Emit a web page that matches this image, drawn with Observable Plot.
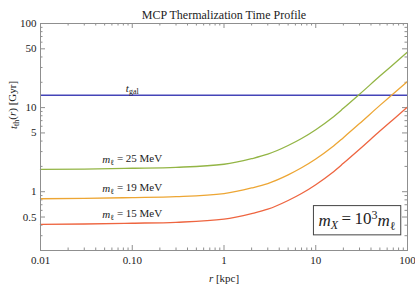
<!DOCTYPE html>
<html><head><meta charset="utf-8">
<script src="https://cdn.jsdelivr.net/npm/d3@7"></script>
<script src="https://cdn.jsdelivr.net/npm/@observablehq/plot@0.6"></script>
<style>body{margin:0;background:#fff} svg{display:block}</style>
</head><body><div id="chart"></div>
<script>
// radii r [kpc] at which curves were read
const radii = [0.01, 0.03, 0.1, 0.3, 1, 2, 3, 5, 7, 10, 15, 20, 30, 50, 70, 100];
// thermalization time t_th [Gyr] per lepton mass
const t25 = [1.84, 1.86, 1.9, 1.95, 2.12, 2.47, 2.79, 3.54, 4.29, 5.46, 7.53, 9.8, 14.4, 23.7, 32.6, 45.7];
const t19 = [0.825, 0.834, 0.852, 0.874, 0.951, 1.108, 1.251, 1.587, 1.924, 2.448, 3.377, 4.395, 6.457, 10.63, 14.62, 20.49];
const t15 = [0.408, 0.413, 0.422, 0.433, 0.471, 0.549, 0.619, 0.786, 0.952, 1.212, 1.672, 2.176, 3.197, 5.26, 7.24, 10.14];
const masses = ["25", "19", "15"];
const seriesColors = ["#93b545", "#eda634", "#ee6540"];
const tGal = 14;
const titleText = "MCP Thermalization Time Profile";
const xTicks = [0.01, 0.1, 1, 10, 100];
const xTickLabels = ["0.01", "0.10", "1", "10", "100"];
const xMinor = [0.02,0.03,0.04,0.05,0.06,0.07,0.08,0.09,0.2,0.3,0.4,0.5,0.6,0.7,0.8,0.9,2,3,4,5,6,7,8,9,20,30,40,50,60,70,80,90];
const yTicks = [0.5, 1, 5, 10, 50, 100];
const yTickLabels = ["0.5", "1", "5", "10", "50", "100"];
const yMinor = [0.2,0.3,0.4,0.6,0.7,0.8,0.9,2,3,4,6,7,8,9,20,30,40,60,70,80,90];

const seriesVals = [t25, t19, t15];
const rows = [];
masses.forEach((m, k) => radii.forEach((r, i) => rows.push({m, r, t: seriesVals[k][i]})));
const labelRows = rows.filter(d => d.r === 0.1);

const W = 415, H = 289, mL = 40, mR = 8, mT = 23, mB = 39;
const fW = W - mL - mR, fH = H - mT - mB;
const ink = "#222";
const frameCol = "#8f8f8f";
const tk = {stroke: frameCol, strokeWidth: 1};

const svg = Plot.plot({
  width: W, height: H,
  marginLeft: mL, marginRight: mR, marginTop: mT, marginBottom: mB,
  style: {fontFamily: "Liberation Serif", fontSize: "11px", background: "#fff", color: ink},
  x: {type: "log", domain: [0.01, 100], axis: null},
  y: {type: "log", domain: [0.2, 100], axis: null},
  color: {domain: masses, range: seriesColors},
  marks: [
    // inward ticks on all four sides
    Plot.ruleX(xTicks, {x: d => d, insetTop: fH - 5, ...tk}),
    Plot.ruleX(xTicks, {x: d => d, insetBottom: fH - 5, ...tk}),
    Plot.ruleX(xMinor, {x: d => d, insetTop: fH - 2.5, ...tk}),
    Plot.ruleX(xMinor, {x: d => d, insetBottom: fH - 2.5, ...tk}),
    Plot.ruleY(yTicks, {y: d => d, insetRight: fW - 5, ...tk}),
    Plot.ruleY(yTicks, {y: d => d, insetLeft: fW - 5, ...tk}),
    Plot.ruleY(yMinor, {y: d => d, insetRight: fW - 2.5, ...tk}),
    Plot.ruleY(yMinor, {y: d => d, insetLeft: fW - 2.5, ...tk}),
    // tick labels
    Plot.text(xTicks, {x: d => d, frameAnchor: "bottom", lineAnchor: "top", dy: 6, text: (d, i) => xTickLabels[i], fill: ink}),
    Plot.text(yTicks, {y: d => d, frameAnchor: "left", textAnchor: "end", dx: -4, text: (d, i) => yTickLabels[i], fill: ink}),
    Plot.ruleY([tGal], {stroke: "#4444b8", strokeWidth: 1.6}),
    Plot.line(rows, {x: "r", y: "t", z: "m", stroke: "m", strokeWidth: 1.3, curve: "monotone-x"}),
    Plot.frame({stroke: frameCol}),
    Plot.text(labelRows, {x: "r", y: "t", text: d => "m|ℓ| = " + d.m + " MeV", dy: -9, fill: ink, ariaLabel: () => "mlabel"}),
    Plot.text([tGal], {x: () => 0.1, y: d => d, text: () => "t|gal", dy: -7, fill: ink, ariaLabel: () => "tgal"}),
    Plot.text([titleText], {frameAnchor: "top", text: d => d, dy: -13, fontSize: 12, fill: ink}),
    Plot.text(["t|th|(|r|) [Gyr]"], {frameAnchor: "left", text: d => d, rotate: -90, dx: -27, dy: -8, fill: ink, ariaLabel: () => "ylab"}),
    Plot.text(["r| [kpc]"], {frameAnchor: "bottom", text: d => d, dy: 31, fill: ink, ariaLabel: () => "xlab"}),
    Plot.text(["m|X|\u2009=\u200910|3|m|ℓ"], {frameAnchor: "bottom-right", textAnchor: "end", text: d => d, dx: -12, dy: -25, fontSize: 17, fill: ink, ariaLabel: () => "legend"})
  ]
});
document.getElementById("chart").appendChild(svg);

function rich(el, parts) {
  const sel = d3.select(el);
  sel.text(null);
  let cur = 0;
  for (const p of parts) {
    const ts = sel.append("tspan").text(p.t);
    const shift = p.sh || 0;
    if (shift !== cur) { ts.attr("dy", (shift - cur) + "em"); cur = shift; }
    if (p.i) ts.attr("font-style", "italic");
    if (p.s) ts.attr("font-size", p.s);
  }
}
function texts(name) {
  const out = [];
  svg.querySelectorAll('[aria-label="' + name + '"]').forEach(n => {
    if (n.tagName.toLowerCase() === "text") out.push(n);
    else n.querySelectorAll("text").forEach(t => out.push(t));
  });
  return out;
}
texts("mlabel").forEach(el => {
  const p = el.textContent.split("|");
  rich(el, [{t: p[0], i: 1}, {t: p[1], sh: 0.3, s: "8px"}, {t: p[2]}]);
});
texts("tgal").forEach(el => {
  const p = el.textContent.split("|");
  rich(el, [{t: p[0], i: 1}, {t: p[1], sh: 0.3, s: "8px"}]);
});
texts("ylab").forEach(el => {
  const p = el.textContent.split("|");
  rich(el, [{t: p[0], i: 1}, {t: p[1], sh: 0.3, s: "8px"}, {t: p[2]}, {t: p[3], i: 1}, {t: p[4]}]);
});
texts("xlab").forEach(el => {
  const p = el.textContent.split("|");
  rich(el, [{t: p[0], i: 1}, {t: p[1]}]);
});
texts("legend").forEach(el => {
  const p = el.textContent.split("|");
  rich(el, [{t: p[0], i: 1}, {t: p[1], i: 1, sh: 0.3, s: "12px"}, {t: p[2]}, {t: p[3], sh: -0.45, s: "12px"}, {t: p[4], i: 1}, {t: p[5], sh: 0.3, s: "12px"}]);
  const b = el.getBBox();
  const padX = 5, padY = 2;
  // box drawn around the legend text
  d3.select(el.parentNode).insert("rect", () => el)
    .attr("x", b.x - padX).attr("y", b.y - padY).attr("width", b.width + 2 * padX).attr("height", b.height + 2 * padY)
    .attr("transform", el.getAttribute("transform"))
    .attr("fill", "#fff").attr("stroke", "#444").attr("stroke-width", 1);
});
</script>
</body></html>
